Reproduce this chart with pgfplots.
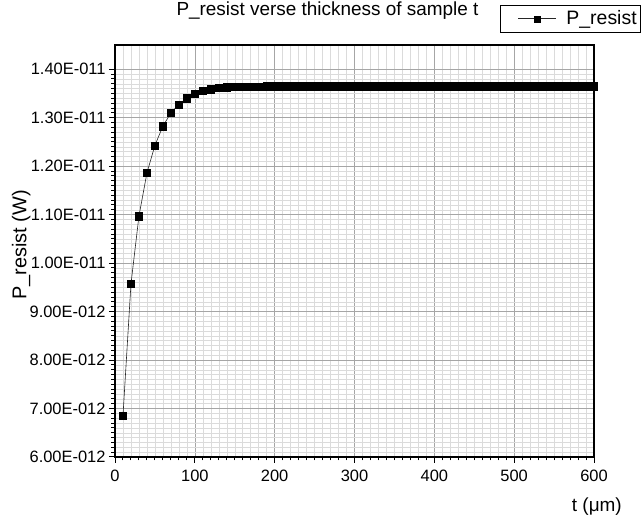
\documentclass[border=0pt]{standalone}
\usepackage{pgfplots}
\pgfplotsset{compat=1.18}
\usepackage{fontspec}
\setmainfont{Liberation Sans}

\pgfplotstableread{
t     P
10    6.85e-12
20    9.57e-12
30    1.097e-11
40    1.186e-11
50    1.243e-11
60    1.2825e-11
70    1.310e-11
80    1.3274e-11
90    1.3404e-11
100   1.3495e-11
110   1.355e-11
120   1.359e-11
130   1.3615e-11
140   1.363e-11
150   1.364e-11
160   1.3643e-11
170   1.3646e-11
180   1.3648e-11
190   1.3649e-11
200   1.365e-11
210   1.365e-11
220   1.365e-11
230   1.365e-11
240   1.365e-11
250   1.365e-11
260   1.365e-11
270   1.365e-11
280   1.365e-11
290   1.365e-11
300   1.365e-11
310   1.365e-11
320   1.365e-11
330   1.365e-11
340   1.365e-11
350   1.365e-11
360   1.365e-11
370   1.365e-11
380   1.365e-11
390   1.365e-11
400   1.365e-11
410   1.365e-11
420   1.365e-11
430   1.365e-11
440   1.365e-11
450   1.365e-11
460   1.365e-11
470   1.365e-11
480   1.365e-11
490   1.365e-11
500   1.365e-11
510   1.365e-11
520   1.365e-11
530   1.365e-11
540   1.365e-11
550   1.365e-11
560   1.365e-11
570   1.365e-11
580   1.365e-11
590   1.365e-11
600   1.365e-11
}\presist

\begin{document}
\begin{tikzpicture}
\begin{axis}[
  name=ax,
  width=479bp, height=412bp, scale only axis,
  xmin=0, xmax=600, ymin=6e-12, ymax=1.45e-11,
  xtick={0,100,...,600},
  ytick={6e-12,7e-12,8e-12,9e-12,1e-11,1.1e-11,1.2e-11,1.3e-11,1.4e-11},
  yticklabels={6.00E-012,7.00E-012,8.00E-012,9.00E-012,1.00E-011,1.10E-011,1.20E-011,1.30E-011,1.40E-011},
  scaled y ticks=false,
  minor x tick num=9, minor y tick num=9,
  grid=both,
  major grid style={gray!70, line width=0.6pt},
  minor grid style={gray!28, line width=0.5pt},
  axis line style={black, line width=1.3pt},
  tick align=outside, tick pos=left,
  major tick length=6bp, minor tick length=3.5bp,
  every tick/.style={black, line width=1pt},
  /pgf/number format/assume math mode=true,
  ticklabel style={font=\fontsize{16.5}{19}\selectfont},
  xticklabel style={yshift=-4bp},
  title={P\_resist verse thickness of sample t},
  title style={font=\fontsize{19}{22}\selectfont, at={(axis description cs:0.4436,1.069)}, anchor=center},
  xlabel={t (μm)},
  xlabel style={font=\fontsize{19}{22}\selectfont, at={(axis description cs:1.006,-0.121)}, anchor=center},
  ylabel={P\_resist (W)},
  ylabel style={font=\fontsize{20}{23}\selectfont, at={(axis description cs:-0.196,0.515)}, anchor=center},
  legend style={at={(axis description cs:1.098,1.098)}, anchor=north east,
    font=\fontsize{19.5}{22}\selectfont, draw=black, line width=0.6pt,
    inner xsep=2bp, inner ysep=4bp},
  legend cell align=left,
  legend image code/.code={
    \node[draw=none, inner sep=0pt, anchor=west, minimum width=62bp, minimum height=6bp] at (-16bp,0bp) {};
    \draw[mark repeat=2, mark phase=2, #1, mark size=3bp]
      plot coordinates {(0bp,0bp) (19bp,0bp) (38bp,0bp)};},
]
\addplot[black!85, line width=0.6pt, mark=square*, mark size=3.6bp,
  mark options={black, line width=0.3pt}] table[x=t, y=P] {\presist};
\addlegendentry{P\_resist}
\end{axis}
\pgfresetboundingbox
\path ([shift={(-115bp,-66bp)}]ax.south west) rectangle ([shift={(48bp,45bp)}]ax.north east);
\end{tikzpicture}
\end{document}
